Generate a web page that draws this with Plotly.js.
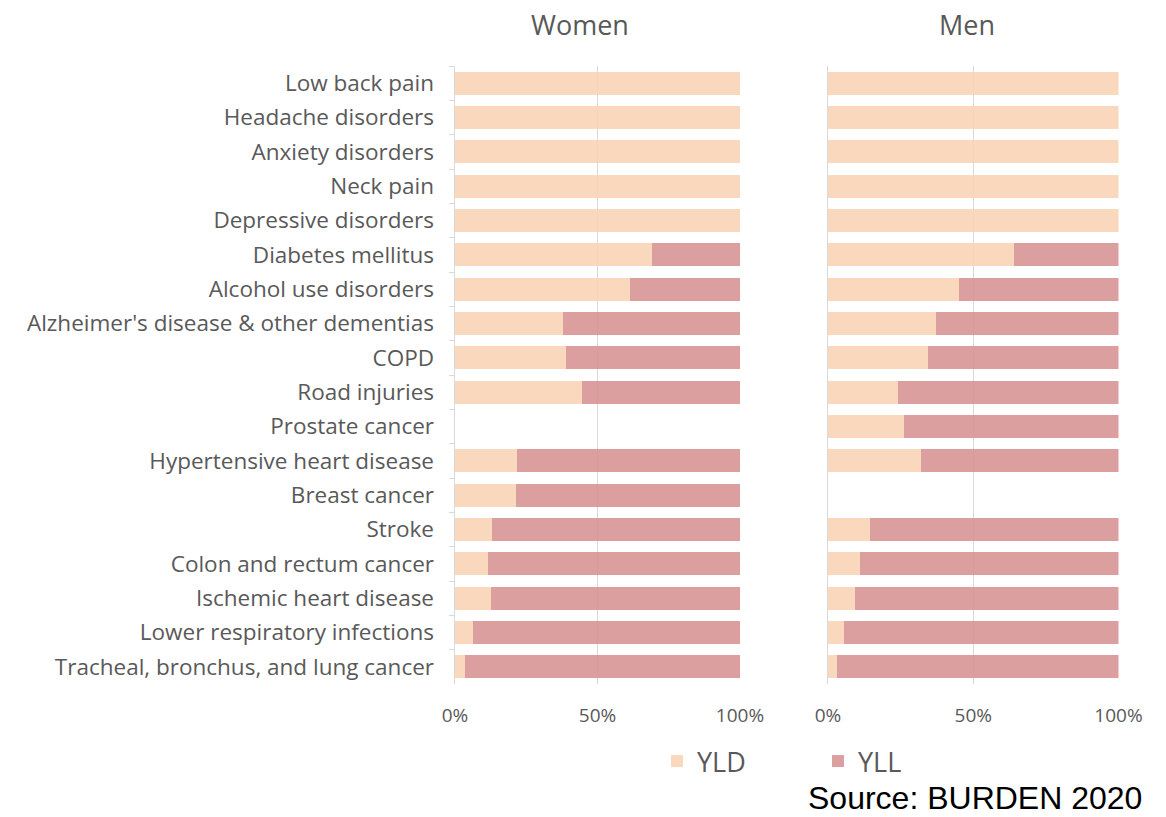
<!DOCTYPE html>
<html><head><meta charset="utf-8">
<script src="https://cdn.plot.ly/plotly-3.0.1.min.js"></script>
<style>body{margin:0;background:#fff}#chart{width:1166px;height:817px}</style>
</head><body><div id="chart"></div>
<script>
const categories = ["Low back pain","Headache disorders","Anxiety disorders","Neck pain","Depressive disorders","Diabetes mellitus","Alcohol use disorders","Alzheimer's disease & other dementias","COPD","Road injuries","Prostate cancer","Hypertensive heart disease","Breast cancer","Stroke","Colon and rectum cancer","Ischemic heart disease","Lower respiratory infections","Tracheal, bronchus, and lung cancer"];
const womenYLD = [100,100,100,100,100,69,61.3,38,38.9,44.6,null,21.8,21.3,13,11.6,12.6,6.3,3.5];
const menYLD   = [100,100,100,100,100,63.9,45,37.3,34.3,24.1,26.3,32,null,14.5,10.9,9.2,5.4,3.1];
const womenYLL = womenYLD.map(v => v === null ? null : 100 - v);
const menYLL   = menYLD.map(v => v === null ? null : 100 - v);
const xTicks = [0,50,100];
const xTickText = ["0%","50%","100%"];

const cYLD = 'rgba(249,212,182,0.9)';
const cYLL = 'rgba(215,149,149,0.9)';
const W = 1166, H = 817;
const PT = 66, PB = 684;
const py = px => (PB - px) / (PB - PT);
const grey = '#595959';
const font = "'Open Sans', sans-serif";

const traces = [
  {type:'bar', orientation:'h', y:categories, x:womenYLD, name:'YLD', marker:{color:cYLD}, xaxis:'x', yaxis:'y', legendgroup:'YLD', width:0.67},
  {type:'bar', orientation:'h', y:categories, x:womenYLL, name:'YLL', marker:{color:cYLL}, xaxis:'x', yaxis:'y', legendgroup:'YLL', width:0.67},
  {type:'bar', orientation:'h', y:categories, x:menYLD, name:'YLD', marker:{color:cYLD}, xaxis:'x2', yaxis:'y2', legendgroup:'YLD', showlegend:false, width:0.67},
  {type:'bar', orientation:'h', y:categories, x:menYLL, name:'YLL', marker:{color:cYLL}, xaxis:'x2', yaxis:'y2', legendgroup:'YLL', showlegend:false, width:0.67}
];

const xax = d => ({domain:d, range:[0,100], tickvals:xTicks, ticktext:xTickText, showgrid:true, gridcolor:'#d9d9d9', gridwidth:1.5, zeroline:false, showline:false, ticks:'', tickfont:{size:19, color:grey, family:font}, ticklabelstandoff:18, fixedrange:true});

const layout = {
  width:W, height:H,
  margin:{l:0, r:0, t:PT, b:H-PB},
  barmode:'stack',
  paper_bgcolor:'#fff', plot_bgcolor:'rgba(0,0,0,0)',
  font:{family:font, color:grey},
  xaxis: xax([455/W, 740/W]),
  xaxis2: Object.assign(xax([828/W, 1118.5/W]), {anchor:'y2'}),
  yaxis: {autorange:'reversed', type:'category', showline:true, linecolor:'#d9d9d9', linewidth:1.5, ticks:'outside', tickson:'boundaries', ticklen:5, tickcolor:'#d9d9d9', tickfont:{size:22.5, color:grey, family:font}, ticklabelstandoff:15, anchor:'x', showgrid:false, fixedrange:true},
  yaxis2: {autorange:'reversed', type:'category', showline:true, linecolor:'#d9d9d9', linewidth:1.5, ticks:'', showticklabels:false, anchor:'x2', matches:'y', showgrid:false, fixedrange:true},
  showlegend:true,
  legend:{orientation:'h', xref:'container', yref:'container', x:657/W, y:1-737/H, xanchor:'left', yanchor:'top', font:{size:27, color:grey, family:font}, entrywidth:116, entrywidthmode:'pixels', traceorder:'normal'},
  annotations:[
    {text:'Women', xref:'paper', yref:'paper', x:580/W, y:py(24), xanchor:'center', yanchor:'middle', showarrow:false, font:{size:27, color:grey, family:font}},
    {text:'Men', xref:'paper', yref:'paper', x:967/W, y:py(24), xanchor:'center', yanchor:'middle', showarrow:false, font:{size:27, color:grey, family:font}},
    {text:'Source: BURDEN 2020', xref:'paper', yref:'paper', x:1143/W, y:py(817), xanchor:'right', yanchor:'bottom', borderpad:0, showarrow:false, font:{size:32, color:'#000', family:"'Liberation Sans', sans-serif"}}
  ]
};
Plotly.newPlot('chart', traces, layout, {displayModeBar:false, staticPlot:true});
</script></body></html>
